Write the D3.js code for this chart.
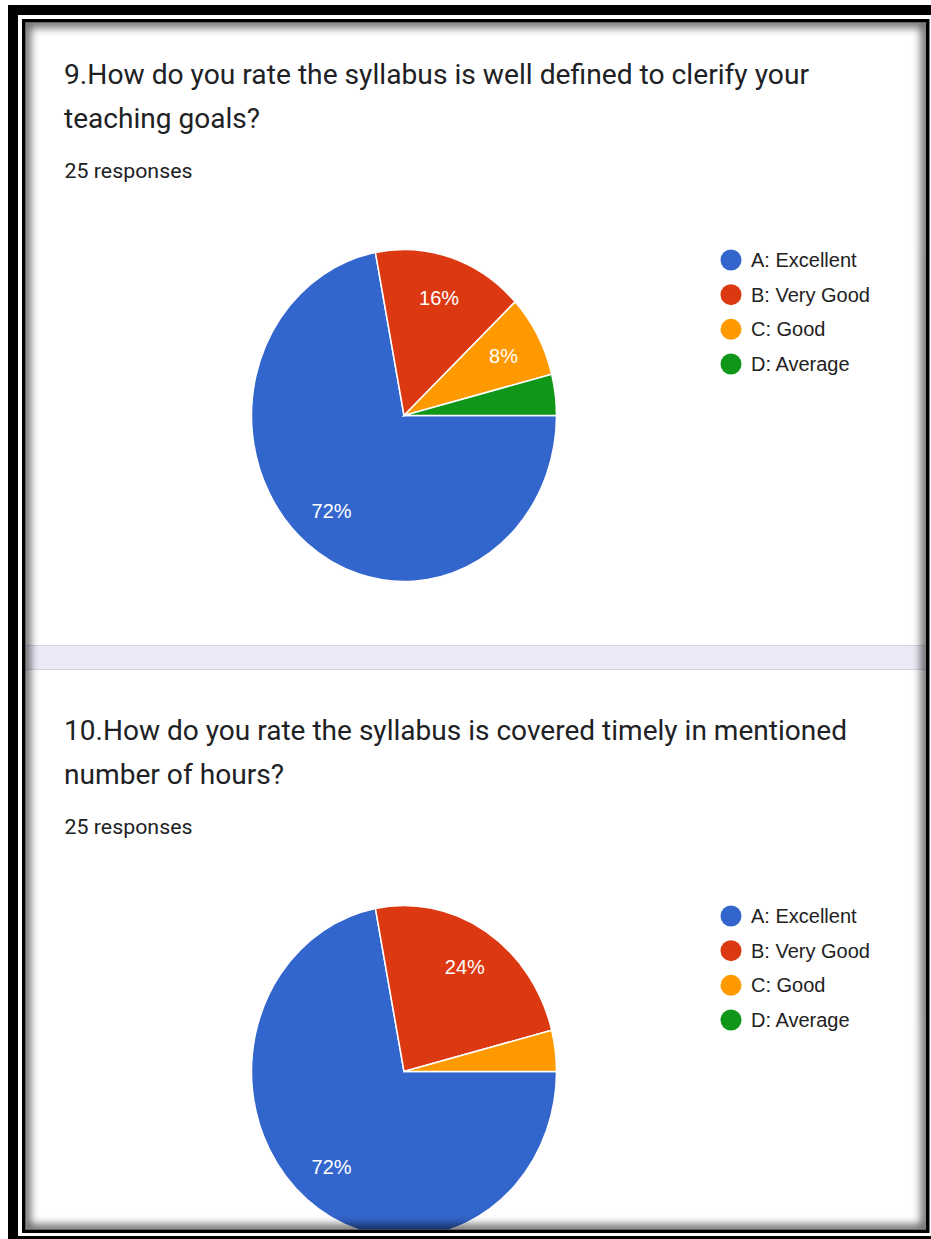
<!DOCTYPE html>
<html>
<head>
<meta charset="utf-8">
<script src="https://cdn.jsdelivr.net/npm/d3@7"></script>
<style>
html,body{margin:0;padding:0;background:#fff;overflow:hidden}
svg{display:block}
</style>
</head>
<body>
<svg id="chart" width="931" height="1239"></svg>
<script>
// ---------- data ----------
const categories = ["A: Excellent", "B: Very Good", "C: Good", "D: Average"];
const q9Counts = [18, 4, 2, 1];
const q10Counts = [18, 6, 1, 0];
const q9Title = ["9.How do you rate the syllabus is well defined to clerify your", "teaching goals?"];
const q10Title = ["10.How do you rate the syllabus is covered timely in mentioned", "number of hours?"];
const responsesText = "25 responses";

// ---------- styles / layout ----------
const palette = ["#3366cc", "#dc3912", "#ff9900", "#109618"];
const W = 931, H = 1239;
const svg = d3.select("#chart");
const defs = svg.append("defs");

defs.append("clipPath").attr("id", "cardClip")
  .append("rect").attr("x", 25.5).attr("y", 22.5).attr("width", 900.5).attr("height", 1207);
const blur = defs.append("filter").attr("id", "blur")
  .attr("x", "-5%").attr("y", "-5%").attr("width", "110%").attr("height", "110%");
blur.append("feGaussianBlur").attr("stdDeviation", 4);

// frame
svg.append("rect").attr("width", W).attr("height", H).attr("fill", "#fff");
svg.append("rect").attr("x", 8).attr("y", 5).attr("width", W).attr("height", H).attr("fill", "#000");
svg.append("rect").attr("x", 18).attr("y", 15).attr("width", W).attr("height", 1221).attr("fill", "#fff");

const content = svg.append("g").attr("clip-path", "url(#cardClip)");
content.append("rect").attr("x", 25.5).attr("y", 22.5).attr("width", 900.5).attr("height", 1207).attr("fill", "#fff");

// band between the two cards
content.append("rect").attr("x", 25).attr("y", 646).attr("width", 902).attr("height", 23).attr("fill", "#edeaf7");
content.append("line").attr("x1", 25).attr("x2", 927).attr("y1", 645.5).attr("y2", 645.5).attr("stroke", "#d5d3dd").attr("stroke-width", 1.2);
content.append("line").attr("x1", 25).attr("x2", 927).attr("y1", 669.5).attr("y2", 669.5).attr("stroke", "#d5d3dd").attr("stroke-width", 1.2);

function drawCard(titleLines, titleLengths, counts, dy) {
  const g = content.append("g").attr("transform", `translate(0,${dy})`);
  // title
  const tb = [84, 128];
  titleLines.forEach((t, i) => {
    g.append("text")
      .attr("x", 64).attr("y", tb[i])
      .attr("font-family", "Roboto, 'Noto Sans', sans-serif")
      .attr("font-size", 27.5)
      .attr("fill", "#202124")
      .attr("textLength", titleLengths[i])
      .attr("lengthAdjust", "spacingAndGlyphs")
      .text(t);
  });
  g.append("text")
    .attr("x", 64.5).attr("y", 178)
    .attr("font-family", "Roboto, 'Noto Sans', sans-serif")
    .attr("font-size", 21)
    .attr("fill", "#202124")
    .attr("textLength", 128)
    .attr("lengthAdjust", "spacingAndGlyphs")
    .text(responsesText);

  // pie
  const cx = 404, cy = 415.5, r = 152.5, sy = 166 / 152.5;
  const total = d3.sum(counts);
  const pie = d3.pie().sort(null).value(d => d.v)
    .startAngle(Math.PI / 2).endAngle(Math.PI / 2 + 2 * Math.PI);
  const arcs = pie(counts.map((v, i) => ({ v, i })));
  const arc = d3.arc().innerRadius(0).outerRadius(r);
  const labelArc = d3.arc().innerRadius(r * 0.745).outerRadius(r * 0.745);

  const pg = g.append("g").attr("transform", `translate(${cx},${cy}) scale(1,${sy})`);
  pg.selectAll("path").data(arcs.filter(d => d.data.v > 0)).join("path")
    .attr("d", arc)
    .attr("fill", d => palette[d.data.i])
    .attr("stroke", "#fff")
    .attr("stroke-width", 1.5)
    .attr("vector-effect", "non-scaling-stroke");

  g.selectAll("text.lbl").data(arcs.filter(d => d.data.v / total >= 0.05)).join("text")
    .attr("class", "lbl")
    .attr("x", d => cx + labelArc.centroid(d)[0])
    .attr("y", d => cy + labelArc.centroid(d)[1] * sy + 7)
    .attr("text-anchor", "middle")
    .attr("font-family", "Arial, 'Liberation Sans', sans-serif")
    .attr("font-size", 20)
    .attr("fill", "#fff")
    .text(d => Math.round(d.data.v / total * 100) + "%");

  // legend
  const ly = d3.scalePoint().domain(categories).range([260, 364]);
  const lg = g.append("g");
  lg.selectAll("circle").data(categories).join("circle")
    .attr("cx", 731).attr("cy", d => ly(d)).attr("r", 10.5)
    .attr("fill", (d, i) => palette[i]);
  lg.selectAll("text").data(categories).join("text")
    .attr("x", 751).attr("y", d => ly(d) + 7)
    .attr("font-family", "Arial, 'Liberation Sans', sans-serif")
    .attr("font-size", 20)
    .attr("fill", "#222")
    .text(d => d);
}

drawCard(q9Title, [745, 196], q9Counts, 0);
drawCard(q10Title, [783, 220], q10Counts, 656);

// inner shadow of the framed screenshot
content.append("rect")
  .attr("x", 25.5).attr("y", 22.5).attr("width", 900.5).attr("height", 1207)
  .attr("fill", "none").attr("stroke", "#000").attr("stroke-width", 10)
  .attr("opacity", 0.6).attr("filter", "url(#blur)");

// inner thin frame line
svg.append("rect")
  .attr("x", 23.75).attr("y", 20.75).attr("width", 904).attr("height", 1210.5)
  .attr("fill", "none").attr("stroke", "#000").attr("stroke-width", 3.5);
</script>
</body>
</html>
